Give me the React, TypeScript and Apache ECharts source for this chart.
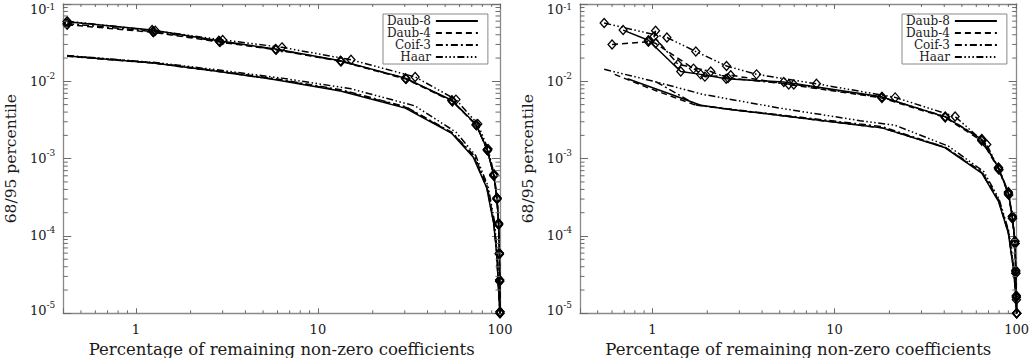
import React, { useEffect, useRef } from "react";
import * as echarts from "echarts";

const FONT = "DejaVu Serif";
const TEXT_COLOR = "#1a1a1a";
const AXIS_COLOR = "#8a8a8a";
const TICK_COLOR = "#6a6a6a";

const X_MIN = 0.4;
const X_MAX = 100;
const Y_MIN = 1e-5;
const Y_MAX = 1e-1;

const WAVELETS = ["Daub-8", "Daub-4", "Coif-3", "Haar"];
const X_TICK_LABELS = ["1", "10", "100"];
const Y_TICK_EXPONENTS = [-5, -4, -3, -2, -1];
const X_MINOR_TICKS = [0.5, 0.6, 0.7, 0.8, 0.9, 2, 3, 4, 5, 6, 7, 8, 9, 20, 30, 40, 50, 60, 70, 80, 90];
const Y_MINOR_TICKS = [
  2e-5, 3e-5, 4e-5, 5e-5, 6e-5, 7e-5, 8e-5, 9e-5,
  2e-4, 3e-4, 4e-4, 5e-4, 6e-4, 7e-4, 8e-4, 9e-4,
  2e-3, 3e-3, 4e-3, 5e-3, 6e-3, 7e-3, 8e-3, 9e-3,
  2e-2, 3e-2, 4e-2, 5e-2, 6e-2, 7e-2, 8e-2, 9e-2,
];

const X_TITLE = "Percentage of remaining non-zero coefficients";
const Y_TITLE = "68/95 percentile";

// ---------- Left panel: upper (95 percentile, diamonds) ----------
const L_D8_HI = [[0.42, 0.059], [1.23, 0.046], [2.86, 0.0334], [5.85, 0.0262], [13.3, 0.0185], [30.2, 0.011], [54.4, 0.0057], [73.9, 0.00277], [85.1, 0.00131], [92.3, 0.00062], [96.2, 0.00031], [98.2, 0.000146], [99.2, 6e-5], [99.6, 2.7e-5], [100, 1.05e-5]];
const L_D4_HI = [[0.42, 0.054], [1.25, 0.043], [2.9, 0.0322], [5.9, 0.0256], [13.4, 0.0181], [30.5, 0.0107], [54.8, 0.0055], [74.2, 0.0027], [85.4, 0.00127], [92.5, 0.0006], [96.3, 0.0003], [98.3, 0.00014], [99.2, 5.8e-5], [99.6, 2.6e-5], [100, 1e-5]];
const L_C3_HI = [[0.42, 0.056], [1.24, 0.044], [2.88, 0.0328], [5.87, 0.0259], [13.35, 0.0183], [30.3, 0.0109], [54.6, 0.0056], [74, 0.00273], [85.2, 0.00129], [92.4, 0.00061], [96.2, 0.0003], [98.2, 0.000142], [99.2, 5.9e-5], [99.6, 2.6e-5], [100, 1e-5]];
const L_HA_HI = [[0.42, 0.06], [1.28, 0.045], [3.0, 0.0343], [6.35, 0.0275], [15.2, 0.019], [34.2, 0.0114], [57.3, 0.0058], [75.5, 0.0028], [86, 0.00133], [92.8, 0.00063], [96.4, 0.00031], [98.3, 0.000145], [99.2, 6e-5], [99.6, 2.7e-5], [100, 1.05e-5]];

// ---------- Left panel: lower (68 percentile) ----------
const L_D8_LO = [[0.42, 0.0213], [1.25, 0.0173], [2.86, 0.0134], [5.85, 0.0105], [13.3, 0.0075], [30.2, 0.0045], [54.4, 0.00212], [71.4, 0.00104], [84.5, 0.00042], [92.3, 0.000146], [95.9, 6e-5], [98, 2.2e-5], [100, 1e-5]];
const L_D4_LO = [[0.42, 0.0211], [1.25, 0.0172], [2.9, 0.0133], [5.9, 0.0106], [13.4, 0.0076], [30.5, 0.0046], [54.8, 0.00213], [72, 0.00105], [85, 0.00041], [92.5, 0.000145], [96, 6e-5], [98, 2.2e-5], [100, 1e-5]];
const L_C3_LO = [[0.42, 0.0214], [1.24, 0.0174], [2.88, 0.0136], [5.87, 0.0108], [13.35, 0.0078], [30.3, 0.0047], [54.6, 0.00218], [72.5, 0.00108], [85.3, 0.00043], [92.6, 0.00015], [96, 6.2e-5], [98, 2.3e-5], [100, 1e-5]];
const L_HA_LO = [[0.42, 0.0215], [1.28, 0.0175], [3.0, 0.0138], [6.35, 0.011], [15.2, 0.008], [34.2, 0.0048], [57.3, 0.0022], [73.5, 0.0011], [86, 0.00044], [93, 0.00016], [96.3, 6.5e-5], [98.2, 2.4e-5], [100, 1e-5]];

// ---------- Right panel: upper (95 percentile, diamonds) ----------
const R_D8_HI = [[0.69, 0.046], [0.95, 0.034], [1.43, 0.0134], [1.84, 0.0123], [2.54, 0.0108], [5.26, 0.0098], [18.2, 0.0063], [40.5, 0.00347], [64.3, 0.00177], [79.4, 0.00076], [90, 0.00036], [94.6, 0.000178], [97.8, 8.5e-5], [98.8, 3.5e-5], [99.5, 1.65e-5], [100, 1e-5]];
const R_D4_HI = [[0.6, 0.030], [0.95, 0.0325], [1.04, 0.031], [1.68, 0.0146], [1.94, 0.0115], [2.69, 0.012], [5.6, 0.0091], [18.2, 0.0061], [40.5, 0.0034], [64.3, 0.0017], [79.4, 0.00074], [90, 0.00035], [94.6, 0.00017], [97.8, 8e-5], [98.8, 3.3e-5], [99.5, 1.6e-5], [100, 1e-5]];
const R_C3_HI = [[1.04, 0.045], [1.02, 0.038], [1.38, 0.0166], [2.09, 0.0134], [2.6, 0.011], [5.97, 0.0091], [18.2, 0.0062], [40.5, 0.0035], [64.3, 0.0018], [79.4, 0.00077], [90, 0.00037], [94.6, 0.00018], [97.8, 8.6e-5], [98.8, 3.6e-5], [99.5, 1.7e-5], [100, 1e-5]];
const R_HA_HI = [[0.543, 0.0567], [1.2, 0.0369], [1.73, 0.0243], [2.55, 0.0158], [3.73, 0.0123], [7.95, 0.0093], [21.5, 0.0062], [45.9, 0.0035], [68.5, 0.00152], [80, 0.00072], [90.5, 0.00034], [95, 0.00017], [98, 8e-5], [99, 3.3e-5], [99.6, 1.5e-5], [100, 1e-5]];

// ---------- Right panel: lower (68 percentile) ----------
const R_D8_LO = [[0.73, 0.0108], [1.26, 0.0068], [1.84, 0.0049], [2.54, 0.0044], [13.8, 0.0027], [18.2, 0.0025], [40.5, 0.00138], [64.3, 0.00065], [79.4, 0.00028], [90, 0.000108], [95.6, 4e-5], [98.8, 1.8e-5], [100, 1e-5]];
const R_D4_LO = [[0.62, 0.0123], [0.94, 0.0083], [1.69, 0.005], [2.54, 0.0044], [13.8, 0.0027], [18.2, 0.0025], [40.5, 0.0014], [64.3, 0.00066], [79.4, 0.00029], [90, 0.00011], [95.6, 4.1e-5], [98.8, 1.8e-5], [100, 1e-5]];
const R_C3_LO = [[1.05, 0.0098], [1.76, 0.0049], [2.6, 0.0044], [13.8, 0.0028], [18.2, 0.0026], [40.5, 0.0014], [64.3, 0.00068], [79.4, 0.0003], [90, 0.000115], [95.6, 4.3e-5], [98.8, 1.9e-5], [100, 1e-5]];
const R_HA_LO = [[0.543, 0.0143], [1.0, 0.0101], [1.88, 0.0068], [5, 0.0045], [13.8, 0.0031], [21.5, 0.0027], [42.2, 0.00145], [66, 0.00068], [80, 0.0003], [90.5, 0.000115], [95.8, 4.3e-5], [98.9, 1.9e-5], [100, 1e-5]];

const DASH: Record<string, any> = {
  "Daub-8": "solid",
  "Daub-4": [6, 4],
  "Coif-3": [7, 3, 2, 3],
  Haar: [7, 2.5, 1.5, 2.5, 1.5, 2.5, 1.5, 2.5],
};

const PANELS = [
  {
    hi: { "Daub-8": L_D8_HI, "Daub-4": L_D4_HI, "Coif-3": L_C3_HI, Haar: L_HA_HI },
    lo: { "Daub-8": L_D8_LO, "Daub-4": L_D4_LO, "Coif-3": L_C3_LO, Haar: L_HA_LO },
  },
  {
    hi: { "Daub-8": R_D8_HI, "Daub-4": R_D4_HI, "Coif-3": R_C3_HI, Haar: R_HA_HI },
    lo: { "Daub-8": R_D8_LO, "Daub-4": R_D4_LO, "Coif-3": R_C3_LO, Haar: R_HA_LO },
  },
];

const GRIDS = [
  { left: 63.3, top: 4, width: 436.7, height: 309.3 },
  { left: 580, top: 4, width: 436.7, height: 309.3 },
];
const LEGEND_LEFT = [383, 902];
const Y_LABEL_MARGIN = 8;

const RICH = {
  b: { fontFamily: FONT, fontSize: 13, lineHeight: 20, verticalAlign: "middle", color: TEXT_COLOR, fill: TEXT_COLOR },
  s: { fontFamily: FONT, fontSize: 9, lineHeight: 9, verticalAlign: "top", color: TEXT_COLOR, fill: TEXT_COLOR },
  bt: { fontFamily: FONT, fontSize: 13, lineHeight: 14, verticalAlign: "bottom", color: TEXT_COLOR, fill: TEXT_COLOR },
  st: { fontFamily: FONT, fontSize: 9, lineHeight: 7, verticalAlign: "top", color: TEXT_COLOR, fill: TEXT_COLOR },
  gb: { fontFamily: FONT, fontSize: 6, lineHeight: 6 },
};

function xLabel(v: number) {
  const found = X_TICK_LABELS.find((t) => Math.abs(Number(t) - v) < 1e-6 * Number(t));
  return found || "";
}
function yLabel(v: number) {
  const e = Math.log10(v);
  const r = Math.round(e);
  if (Math.abs(e - r) > 1e-6 || !Y_TICK_EXPONENTS.includes(r)) return "";
  if (r === Y_TICK_EXPONENTS[Y_TICK_EXPONENTS.length - 1]) return "";
  const core = `{b|10}{s|${r}}`;
  if (r === Y_TICK_EXPONENTS[0]) return `${core}\n{gb| }`;
  return core;
}

// top (max) y label, drawn at the axis max through the axis scale, hanging below it
function topLabelSeries(panel: number) {
  const r = Y_TICK_EXPONENTS[Y_TICK_EXPONENTS.length - 1];
  return {
    type: "custom",
    xAxisIndex: panel * 2,
    yAxisIndex: panel * 2,
    silent: true,
    clip: false,
    z: 6,
    data: [[X_MIN, Math.pow(10, r)]],
    renderItem: (params: any, api: any) => {
      const p = api.coord([api.value(0), api.value(1)]);
      return {
        type: "text",
        x: p[0] - Y_LABEL_MARGIN,
        y: p[1] - 2,
        style: {
          text: `{bt|10}{st|${r}}`,
          rich: RICH,
          align: "right",
          verticalAlign: "top",
          fill: TEXT_COLOR,
        },
      };
    },
  };
}

function tickSeries(panel: number, axis: "x" | "y", values: number[], len: number) {
  return {
    type: "custom",
    xAxisIndex: panel * 2,
    yAxisIndex: panel * 2,
    silent: true,
    clip: false,
    z: 5,
    data: values.map((v) => (axis === "x" ? [v, Y_MIN] : [X_MIN, v])),
    renderItem: (params: any, api: any) => {
      const p = api.coord([api.value(0), api.value(1)]);
      const cs = params.coordSys;
      const style = { stroke: TICK_COLOR, lineWidth: 1 };
      if (axis === "x") {
        const b = cs.y + cs.height;
        return {
          type: "group",
          children: [
            { type: "line", shape: { x1: p[0], y1: b, x2: p[0], y2: b - len }, style },
            { type: "line", shape: { x1: p[0], y1: cs.y, x2: p[0], y2: cs.y + len }, style },
          ],
        };
      }
      const r = cs.x + cs.width;
      return {
        type: "group",
        children: [
          { type: "line", shape: { x1: cs.x, y1: p[1], x2: cs.x + len, y2: p[1] }, style },
          { type: "line", shape: { x1: r, y1: p[1], x2: r - len, y2: p[1] }, style },
        ],
      };
    },
  };
}

function buildOption() {
  const axisLine = { show: true, lineStyle: { color: AXIS_COLOR, width: 1.3 } };
  const xAxis: any[] = [];
  const yAxis: any[] = [];
  GRIDS.forEach((_, i) => {
    xAxis.push({
      type: "log", gridIndex: i, min: X_MIN, max: X_MAX, position: "bottom",
      axisLine, splitLine: { show: false },
      axisTick: { show: true, inside: true, length: 5, lineStyle: { color: TICK_COLOR } },
      axisLabel: { formatter: xLabel, margin: 10, fontFamily: FONT, fontSize: 13, color: TEXT_COLOR },
      name: X_TITLE, nameLocation: "middle", nameGap: 27,
      nameTextStyle: { fontFamily: FONT, fontSize: 16.5, color: TEXT_COLOR },
    });
    xAxis.push({
      type: "log", gridIndex: i, min: X_MIN, max: X_MAX, position: "top",
      axisLine, splitLine: { show: false }, axisLabel: { show: false },
      axisTick: { show: true, inside: true, length: 5, lineStyle: { color: TICK_COLOR } },
    });
    yAxis.push({
      type: "log", gridIndex: i, min: Y_MIN, max: Y_MAX, position: "left",
      axisLine, splitLine: { show: false },
      axisTick: { show: true, inside: true, length: 8, lineStyle: { color: TICK_COLOR } },
      axisLabel: {
        formatter: yLabel, margin: Y_LABEL_MARGIN, color: TEXT_COLOR,
        showMaxLabel: false,
        rich: RICH,
      },
      name: Y_TITLE, nameLocation: "middle", nameGap: 44, nameRotate: 90,
      nameTextStyle: { fontFamily: FONT, fontSize: 15.5, color: TEXT_COLOR },
    });
    yAxis.push({
      type: "log", gridIndex: i, min: Y_MIN, max: Y_MAX, position: "right",
      axisLine, splitLine: { show: false }, axisLabel: { show: false },
      axisTick: { show: true, inside: true, length: 8, lineStyle: { color: TICK_COLOR } },
    });
  });

  const series: any[] = [];
  // legend-only series
  WAVELETS.forEach((w) => {
    series.push({
      type: "line", name: w, data: [], xAxisIndex: 0, yAxisIndex: 0, symbol: "none",
      lineStyle: { color: "#000", width: 1.4, type: DASH[w] },
      itemStyle: { color: "#000" },
    });
  });
  PANELS.forEach((p, i) => {
    WAVELETS.forEach((w) => {
      series.push({
        type: "line", name: `${w} 68%`, data: (p.lo as any)[w],
        xAxisIndex: i * 2, yAxisIndex: i * 2, symbol: "none", silent: true,
        lineStyle: { color: "#000", width: 1.5, type: DASH[w] },
      });
    });
    WAVELETS.forEach((w) => {
      series.push({
        type: "line", name: `${w} 95%`, data: (p.hi as any)[w],
        xAxisIndex: i * 2, yAxisIndex: i * 2, symbol: "diamond", symbolSize: [8, 9], silent: true,
        lineStyle: { color: "#000", width: 1.5, type: DASH[w] },
        itemStyle: { color: "rgba(0,0,0,0)", borderColor: "#000", borderWidth: 1.3 },
      });
    });
    series.push(tickSeries(i, "x", X_MINOR_TICKS, 3));
    series.push(tickSeries(i, "y", Y_MINOR_TICKS, 4.5));
    series.push(topLabelSeries(i));
  });

  const legend = LEGEND_LEFT.map((l) => ({
    left: l, top: 14, orient: "vertical", align: "right",
    itemWidth: 42, itemHeight: 12, itemGap: 0,
    padding: [1, 9, 1, 4],
    borderColor: "#888", borderWidth: 1, backgroundColor: "#fff",
    selectedMode: false,
    itemStyle: { opacity: 0 },
    data: WAVELETS,
    textStyle: { fontFamily: FONT, fontSize: 12, color: TEXT_COLOR, lineHeight: 12 },
  }));

  return {
    animation: false,
    backgroundColor: "#fff",
    grid: GRIDS.map((g) => ({ ...g, containLabel: false, outerBoundsMode: "none" })),
    xAxis,
    yAxis,
    legend,
    series,
  };
}

export default function App() {
  const ref = useRef<HTMLDivElement>(null);
  useEffect(() => {
    const chart = echarts.init(ref.current!, null, { renderer: "svg" });
    chart.setOption(buildOption() as any);
    return () => chart.dispose();
  }, []);
  return (
    <div
      ref={ref}
      style={{ position: "absolute", left: 0, top: 0, width: 1031, height: 358, background: "#fff" }}
    />
  );
}
